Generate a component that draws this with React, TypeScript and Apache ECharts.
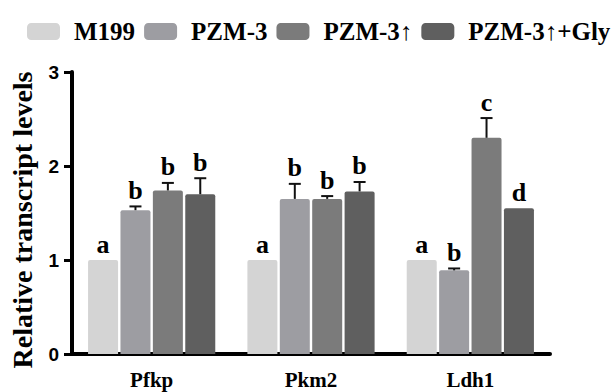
import React, { useEffect, useRef } from "react";
import * as echarts from "echarts";

const categories = ["Pfkp", "Pkm2", "Ldh1"];
const seriesNames = ["M199", "PZM-3", "PZM-3↑", "PZM-3↑+Gly"];
const colors = ["#d4d4d4", "#9d9da2", "#7b7b7b", "#5f5f5f"];
const m199 = [1.0, 1.0, 1.0];
const pzm3 = [1.53, 1.65, 0.89];
const pzm3Up = [1.74, 1.65, 2.3];
const pzm3UpGly = [1.7, 1.73, 1.55];
const m199Err = [0, 0, 0];
const pzm3Err = [0.04, 0.16, 0.02];
const pzm3UpErr = [0.08, 0.03, 0.21];
const pzm3UpGlyErr = [0.17, 0.1, 0];
const m199Letters = ["a", "a", "a"];
const pzm3Letters = ["b", "b", "b"];
const pzm3UpLetters = ["b", "b", "c"];
const pzm3UpGlyLetters = ["b", "b", "d"];
const yTicks = [0, 1, 2, 3];

const values = [m199, pzm3, pzm3Up, pzm3UpGly];
const errs = [m199Err, pzm3Err, pzm3UpErr, pzm3UpGlyErr];
const letters = [m199Letters, pzm3Letters, pzm3UpLetters, pzm3UpGlyLetters];

const BAR_W = 30;
const BAR_GAP_PCT = 8;
const SERIF = "'Liberation Serif', 'Times New Roman', serif";
const SANS = "'Liberation Sans', Arial, sans-serif";

export default function App() {
  const ref = useRef<HTMLDivElement>(null);
  useEffect(() => {
    if (!ref.current) return;
    const chart = echarts.init(ref.current, undefined, { renderer: "svg" });
    const gapPx = (BAR_W * BAR_GAP_PCT) / 100;
    const n = seriesNames.length;

    const bars = seriesNames.map((name, i) => ({
      name,
      type: "bar",
      data: values[i],
      barWidth: BAR_W,
      barGap: BAR_GAP_PCT + "%",
      itemStyle: { color: colors[i], borderRadius: [2, 2, 0, 0] },
      z: 2,
    }));

    const errSeries = seriesNames.map((name, i) => ({
      name: name + "-err",
      type: "custom",
      silent: true,
      z: 3,
      data: categories.map((_, j) => [j, values[i][j], errs[i][j], letters[i][j]]),
      renderItem: (params: any, api: any) => {
        const ci = api.value(0);
        const v = api.value(1);
        const e = api.value(2);
        const idx = params.dataIndex;
        const letter = letters[i][idx];
        const offset = (i - (n - 1) / 2) * (BAR_W + gapPx);
        const base = api.coord([ci, v]);
        const topPt = api.coord([ci, v + e]);
        const x = base[0] + offset;
        const children: any[] = [];
        if (e > 0) {
          children.push({
            type: "line",
            shape: { x1: x, y1: base[1], x2: x, y2: topPt[1] },
            style: { stroke: "#111", lineWidth: 2 },
          });
          children.push({
            type: "line",
            shape: { x1: x - 6, y1: topPt[1], x2: x + 6, y2: topPt[1] },
            style: { stroke: "#111", lineWidth: 2 },
          });
        }
        children.push({
          type: "text",
          x: x,
          y: topPt[1] - 3,
          style: {
            text: letter,
            fill: "#000",
            font: "bold 26px " + SERIF,
            textAlign: "center",
            textVerticalAlign: "bottom",
          },
        });
        return { type: "group", children };
      },
    }));

    chart.setOption({
      animation: false,
      backgroundColor: "#fff",
      color: colors,
      legend: {
        data: seriesNames,
        left: 27,
        top: 19,
        padding: 0,
        itemWidth: 33,
        itemHeight: 17,
        itemGap: 9,
        icon: "roundRect",
        textStyle: {
          fontFamily: SERIF,
          fontWeight: "bold",
          fontSize: 25,
          color: "#000",
          padding: [0, 0, 0, 9],
        },
      },
      grid: { left: 72, right: 61, top: 72, bottom: 38, containLabel: false },
      xAxis: {
        type: "category",
        data: categories,
        axisLine: { lineStyle: { color: "#000", width: 4 } },
        axisTick: { alignWithLabel: true, length: 11, lineStyle: { color: "#000", width: 3 } },
        axisLabel: {
          fontFamily: SERIF,
          fontWeight: "bold",
          fontSize: 21,
          color: "#000",
          margin: 15,
        },
      },
      yAxis: {
        type: "value",
        min: yTicks[0],
        max: yTicks[yTicks.length - 1],
        interval: 1,
        name: "Relative transcript levels",
        nameLocation: "middle",
        nameGap: 36,
        nameTextStyle: {
          fontFamily: SERIF,
          fontWeight: "bold",
          fontSize: 28,
          color: "#000",
          padding: [0, 14, 0, 0],
        },
        axisLine: { show: true, lineStyle: { color: "#000", width: 4 } },
        axisTick: { show: true, length: 8, lineStyle: { color: "#000", width: 3 } },
        splitLine: { show: false },
        axisLabel: {
          fontFamily: SANS,
          fontWeight: "bold",
          fontSize: 19,
          color: "#000",
          margin: 13,
        },
      },
      series: [...bars, ...errSeries],
    });
    return () => chart.dispose();
  }, []);
  return (
    <div
      ref={ref}
      style={{ position: "fixed", left: 0, top: 0, width: 611, height: 392 }}
    />
  );
}
